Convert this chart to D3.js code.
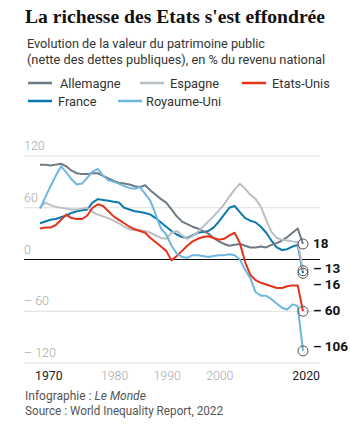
<!DOCTYPE html>
<html><head><meta charset="utf-8">
<script src="https://cdn.jsdelivr.net/npm/d3@7"></script>
<style>
html,body{margin:0;padding:0;background:#fff;}
svg{display:block;font-family:Roboto,"Liberation Sans",sans-serif;}
</style></head>
<body>
<svg id="c" width="350" height="424"></svg>
<script>
const years = d3.range(1970, 2021);
const allemagne = [110,110,109,110,111,108,103,100,99,99,100,100,97,94,91,89,88,87,85,84,86,80,75,70,66,58,50,44,41,38,36,33,30,25,21,18,16,17,18,16,14,14,15,14,17,19,22,26,31,36,18];
const espagne   = [60,66,63,61,60,59,58,58,59,60,55,52,50,48,45,42,38,35,34,34,33,31,28,25,24,31,33,28,24,27,32,38,44,50,57,64,73,81,88,82,75,70,61,46,32,25,23,22,21,20,-13];
const etatsUnis = [36,37,37,40,46,52,48,47,47,51,60,64,62,56,50,46,42,38,35,33,31,25,20,15,10,-1,4,10,16,21,24,26,27,25,23,24,28,31,19,-3,-18,-24,-27,-29,-31,-33,-33,-31,-30,-30,-60];
const france    = [42,44,46,47,49,51,54,56,57,58,66,70,69,68,67,66,60,58,56,55,54,52,48,43,38,33,29,26,25,28,31,32,33,37,44,52,60,62,55,48,45,43,38,31,22,14,11,12,15,17,-16];
const royaumeUni= [59,72,85,97,108,101,93,87,88,95,102,105,97,92,90,88,85,83,82,84,76,68,52,36,29,16,7,3,2,5,5,4,3,4,5,5,6,5,0,-12,-22,-38,-42,-42,-46,-51,-56,-58,-52,-54,-106];

const seriesNames  = ["France","Allemagne","Espagne","Etats-Unis","Royaume-Uni"];
const seriesValues = [france, allemagne, espagne, etatsUnis, royaumeUni];
const colors = {"Allemagne":"#6d7a83","Espagne":"#b8c0c6","Etats-Unis":"#e5331a","France":"#0b79af","Royaume-Uni":"#6cb7df"};

const yTicks = [120, 60, 0, -60, -120];
const xTicks = [1970, 1980, 1990, 2000, 2020];
const endLabels = ["18","– 13","– 16","– 60","– 106"];
const endValues = [18, -13, -16, -60, -106];

const svg = d3.select("#c");
const x = d3.scaleLinear().domain([1970, 2020]).range([40, 303]);
const y = d3.scaleLinear().domain([-120, 120]).range([363, 156]);

// Title
svg.append("text").attr("x", 25).attr("y", 23)
  .attr("font-family", "'Liberation Serif',serif").attr("font-weight", 700)
  .attr("font-size", 18.5).attr("fill", "#111")
  .attr("textLength", 300).attr("lengthAdjust", "spacingAndGlyphs")
  .text("La richesse des Etats s'est effondrée");

svg.append("text").attr("x", 27).attr("y", 48).attr("font-size", 12.5).attr("fill", "#333")
  .attr("textLength", 238).attr("lengthAdjust", "spacingAndGlyphs")
  .text("Evolution de la valeur du patrimoine public");
svg.append("text").attr("x", 27).attr("y", 63.5).attr("font-size", 12.5).attr("fill", "#333")
  .attr("textLength", 298).attr("lengthAdjust", "spacingAndGlyphs")
  .text("(nette des dettes publiques), en % du revenu national");

// Legend
const legend = [
  {name:"Allemagne", sx:28, tx:60, y:83},
  {name:"Espagne", sx:140, tx:170, y:83},
  {name:"Etats-Unis", sx:242, tx:272, y:83},
  {name:"France", sx:28, tx:58, y:101},
  {name:"Royaume-Uni", sx:118, tx:146, y:101}
];
legend.forEach(l => {
  svg.append("line").attr("x1", l.sx).attr("x2", l.sx + 24).attr("y1", l.y).attr("y2", l.y)
    .attr("stroke", colors[l.name]).attr("stroke-width", 2.5);
  svg.append("text").attr("x", l.tx).attr("y", l.y + 4.5).attr("font-size", 12.8).attr("fill", "#333").text(l.name);
});

// Grid
const fmt = v => v < 0 ? "– " + Math.abs(v) : String(v);
yTicks.forEach(v => {
  svg.append("line").attr("x1", 24).attr("x2", 320).attr("y1", y(v)).attr("y2", y(v))
    .attr("stroke", v === 0 ? "#111" : "#dedede").attr("stroke-width", 1);
  svg.append("text").attr("x", 24).attr("y", y(v) - 6).attr("font-size", 12.5)
    .attr("font-weight", 300).attr("fill", "#a8a8a8").text(fmt(v));
});

// X labels
xTicks.forEach(v => {
  const t = svg.append("text").attr("y", 380).attr("font-size", 12.3).text(v);
  if (v === 1970) t.attr("x", x(v) - 5).attr("text-anchor", "start").attr("fill", "#222");
  else if (v === 2020) t.attr("x", x(v) + 17).attr("text-anchor", "end").attr("fill", "#222");
  else t.attr("x", x(v) + 22).attr("text-anchor", "middle").attr("fill", "#aaa").attr("font-weight", 300);
});

// Lines
const line = d3.line().x((d, i) => x(years[i])).y(d => y(d));
seriesNames.forEach((n, k) => {
  svg.append("path").datum(seriesValues[k]).attr("d", line)
    .attr("fill", "none").attr("stroke", colors[n]).attr("stroke-width", 2)
    .attr("stroke-linejoin", "round");
});

// End circles
endValues.forEach(v => {
  svg.append("circle").attr("cx", x(2020)).attr("cy", y(v)).attr("r", 5)
    .attr("fill", "none").attr("stroke", "#555").attr("stroke-width", 1);
});
// End labels
const labelShift = [0, -2, 11, -1, -4];
endValues.forEach((v, i) => {
  svg.append("text").attr("x", 313).attr("y", y(v) + labelShift[i] + 4.5)
    .attr("font-size", 13.5).attr("font-weight", 700).attr("fill", "#111").text(endLabels[i]);
});

// Footer
const f1 = svg.append("text").attr("x", 25).attr("y", 400).attr("font-size", 12).attr("fill", "#555");
f1.append("tspan").text("Infographie : ");
f1.append("tspan").attr("font-style", "italic").text("Le Monde");
svg.append("text").attr("x", 25).attr("y", 415).attr("font-size", 12).attr("fill", "#555")
  .attr("textLength", 198).attr("lengthAdjust", "spacingAndGlyphs")
  .text("Source : World Inequality Report, 2022");
</script>
</body></html>
